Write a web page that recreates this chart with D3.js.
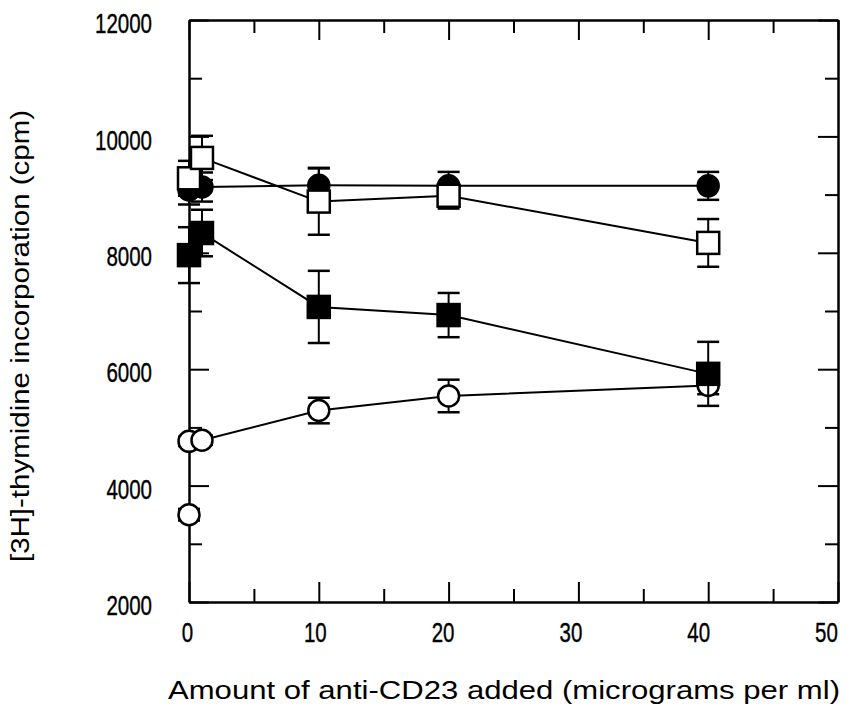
<!DOCTYPE html>
<html>
<head>
<meta charset="utf-8">
<script src="https://cdn.jsdelivr.net/npm/d3@7"></script>
<style>
  body { margin: 0; background: #fff; }
  text { font-family: "Liberation Sans", Arial, Helvetica, sans-serif; fill: #000; }
</style>
</head>
<body>
<div id="chart"></div>
<script>
// anti-CD23 concentrations (micrograms per ml)
const doses = [0, 1, 10, 20, 40];

// four series, cpm with error (+/-)
const filledCircle = [9080, 9130, 9160, 9150, 9150];
const filledCircleErr = [250, 250, 300, 240, 240];
const openSquare = [9280, 9630, 8880, 8980, 8170];
const openSquareErr = [300, 380, 570, 220, 410];
const filledSquare = [7960, 8340, 7070, 6930, 5920];
const filledSquareErr = [480, 400, 620, 380, 550];
const openCircle = [4760, 4780, 5290, 5540, 5720];
const openCircleErr = [80, 80, 220, 280, 150];

// unconnected control point (open circle)
const controlDose = [0];
const controlValue = [3500];
const controlErr = [100];

const xTicks = [0, 10, 20, 30, 40, 50];
const yTicks = [2000, 4000, 6000, 8000, 10000, 12000];

const w = 858;
const h = 723;
const plotLeft = 189, plotRight = 838, plotTop = 20, plotBottom = 602;

const svg = d3.select('#chart')
  .append('svg')
  .attr('width', w)
  .attr('height', h);

const xScale = d3.scaleLinear().domain([0, 50]).range([plotLeft, plotRight]);
const yScale = d3.scaleLinear().domain([2000, 12000]).range([plotBottom, plotTop]);

// axes, ticks pointing inward on all four sides
// the scanned labels are tall and narrow, so squeeze them to the digit width
function styleAxis(g) {
  g.select('.domain').attr('stroke-width', 2.5);
  g.selectAll('.tick line').attr('stroke-width', 2);
  g.selectAll('.tick text')
    .attr('font-size', 28)
    .attr('fill', '#000')
    .attr('stroke', '#000')
    .attr('stroke-width', 0.4)
    .attr('textLength', function () { return this.textContent.length * 11.4; })
    .attr('lengthAdjust', 'spacingAndGlyphs');
}

const minorX = d3.range(5, 50, 10);
const minorY = d3.range(3000, 12000, 2000);
const fmt = d3.format('d');

svg.append('g')
  .attr('transform', 'translate(0,' + plotBottom + ')')
  .call(d3.axisBottom(xScale).tickValues(xTicks).tickFormat(fmt).tickSize(-20).tickSizeOuter(0).tickPadding(20))
  .call(styleAxis)
  .selectAll('.tick text').attr('dx', d => -(2 + d * 0.2));
svg.append('g')
  .attr('transform', 'translate(0,' + plotBottom + ')')
  .call(d3.axisBottom(xScale).tickValues(minorX).tickSize(-13).tickFormat(''))
  .call(g => g.select('.domain').remove())
  .call(styleAxis);

svg.append('g')
  .attr('transform', 'translate(0,' + plotTop + ')')
  .call(d3.axisTop(xScale).tickValues(xTicks).tickSize(-20).tickSizeOuter(0).tickFormat(''))
  .call(styleAxis);
svg.append('g')
  .attr('transform', 'translate(0,' + plotTop + ')')
  .call(d3.axisTop(xScale).tickValues(minorX).tickSize(-13).tickFormat(''))
  .call(g => g.select('.domain').remove())
  .call(styleAxis);

svg.append('g')
  .attr('transform', 'translate(' + plotLeft + ',0)')
  .call(d3.axisLeft(yScale).tickValues(yTicks).tickFormat(fmt).tickSize(-20).tickSizeOuter(0).tickPadding(37))
  .call(styleAxis)
  .selectAll('.tick text').attr('dy', '0.45em');
svg.append('g')
  .attr('transform', 'translate(' + plotLeft + ',0)')
  .call(d3.axisLeft(yScale).tickValues(minorY).tickSize(-13).tickFormat(''))
  .call(g => g.select('.domain').remove())
  .call(styleAxis);

svg.append('g')
  .attr('transform', 'translate(' + plotRight + ',0)')
  .call(d3.axisRight(yScale).tickValues(yTicks).tickSize(-20).tickSizeOuter(0).tickFormat(''))
  .call(styleAxis);
svg.append('g')
  .attr('transform', 'translate(' + plotRight + ',0)')
  .call(d3.axisRight(yScale).tickValues(minorY).tickSize(-13).tickFormat(''))
  .call(g => g.select('.domain').remove())
  .call(styleAxis);

// axis titles
svg.append('text')
  .attr('x', 168)
  .attr('y', 699)
  .attr('font-size', 26)
  .attr('textLength', 672)
  .attr('lengthAdjust', 'spacingAndGlyphs')
  .text('Amount of anti-CD23 added (micrograms per ml)');

svg.append('text')
  .attr('transform', 'translate(29,562) rotate(-90)')
  .attr('font-size', 26)
  .attr('textLength', 452)
  .attr('lengthAdjust', 'spacingAndGlyphs')
  .text('[3H]-thymidine incorporation (cpm)');

const line = d3.line()
  .x(d => xScale(d[0]))
  .y(d => yScale(d[1]));

const series = [
  { vals: openCircle, err: openCircleErr, shape: 'circle', fill: '#fff' },
  { vals: filledCircle, err: filledCircleErr, shape: 'circle', fill: '#000' },
  { vals: openSquare, err: openSquareErr, shape: 'square', fill: '#fff' },
  { vals: filledSquare, err: filledSquareErr, shape: 'square', fill: '#000' }
];

const plot = svg.append('g');

// connecting lines
series.forEach(function (s) {
  plot.append('path')
    .datum(doses.map((d, i) => [d, s.vals[i]]))
    .attr('d', line)
    .attr('fill', 'none')
    .attr('stroke', '#000')
    .attr('stroke-width', 2);
});

function drawErr(g, xs, ys, es) {
  xs.forEach(function (xv, i) {
    const cx = xScale(xv);
    const y1 = yScale(ys[i] + es[i]);
    const y2 = yScale(ys[i] - es[i]);
    g.append('line').attr('x1', cx).attr('x2', cx).attr('y1', y1).attr('y2', y2)
      .attr('stroke', '#000').attr('stroke-width', 2);
    [y1, y2].forEach(function (yy) {
      g.append('line').attr('x1', cx - 11).attr('x2', cx + 11).attr('y1', yy).attr('y2', yy)
        .attr('stroke', '#000').attr('stroke-width', 2.5);
    });
  });
}

function drawMarkers(g, xs, ys, shape, fill) {
  xs.forEach(function (xv, i) {
    const cx = xScale(xv);
    const cy = yScale(ys[i]);
    if (shape === 'circle') {
      g.append('circle').attr('cx', cx).attr('cy', cy).attr('r', 10.5)
        .attr('fill', fill).attr('stroke', '#000').attr('stroke-width', 2.5);
    } else {
      g.append('rect').attr('x', cx - 11).attr('y', cy - 11).attr('width', 22).attr('height', 22)
        .attr('fill', fill).attr('stroke', '#000').attr('stroke-width', 2.5);
    }
  });
}

series.forEach(function (s) {
  const g = plot.append('g');
  drawErr(g, doses, s.vals, s.err);
  if (s === series[0]) {
    drawErr(g, controlDose, controlValue, controlErr);
    drawMarkers(g, controlDose, controlValue, 'circle', '#fff');
  }
  drawMarkers(g, doses, s.vals, s.shape, s.fill);
});
</script>
</body>
</html>
